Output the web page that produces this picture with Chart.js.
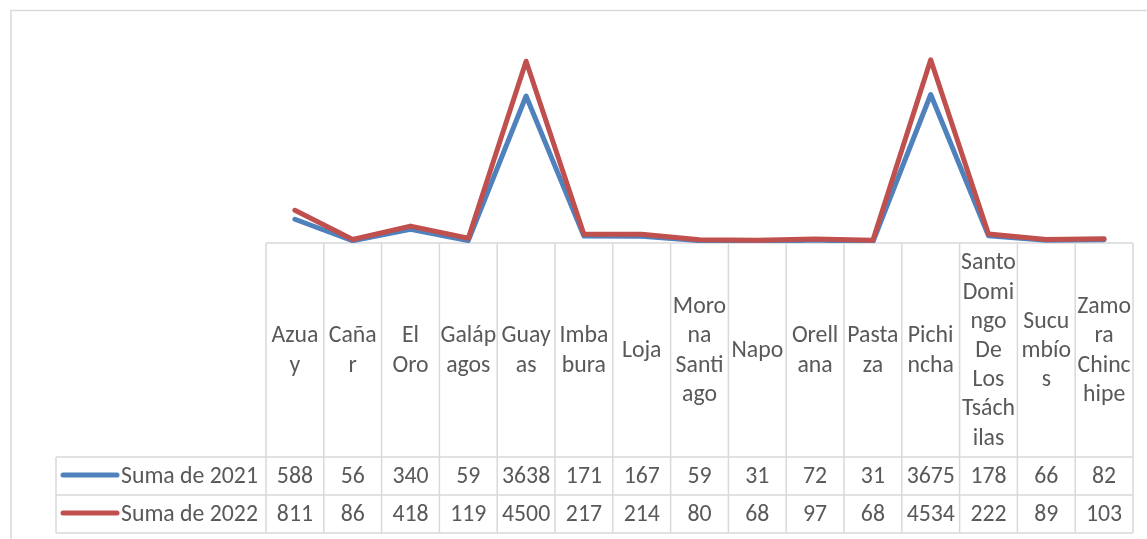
<!DOCTYPE html>
<html>
<head>
<meta charset="utf-8">
<script src="https://cdn.jsdelivr.net/npm/chart.js@4/dist/chart.umd.min.js"></script>
<style>
  html, body { margin: 0; padding: 0; background: #fff; }
  canvas { display: block; }
</style>
</head>
<body>
<canvas id="c" width="1147" height="539"></canvas>
<script>
const categories = ["Azuay", "Cañar", "El Oro", "Galápagos", "Guayas", "Imbabura", "Loja",
  "Morona Santiago", "Napo", "Orellana", "Pastaza", "Pichincha",
  "Santo Domingo De Los Tsáchilas", "Sucumbíos", "Zamora Chinchipe"];
const headerLines = [["Azua","y"],["Caña","r"],["El","Oro"],["Galáp","agos"],["Guay","as"],
  ["Imba","bura"],["Loja"],["Moro","na","Santi","ago"],["Napo"],["Orell","ana"],["Pasta","za"],
  ["Pichi","ncha"],["Santo","Domi","ngo","De","Los","Tsách","ilas"],["Sucu","mbío","s"],
  ["Zamo","ra","Chinc","hipe"]];
const seriesNames = ["Suma de 2021", "Suma de 2022"];
const values2021 = [588, 56, 340, 59, 3638, 171, 167, 59, 31, 72, 31, 3675, 178, 66, 82];
const values2022 = [811, 86, 418, 119, 4500, 217, 214, 80, 68, 97, 68, 4534, 222, 89, 103];
const yMax = 5000;

const BLUE = '#4F81BD', RED = '#C0504D', GRID = '#d9d9d9', TXT = '#595959';

const tablePlugin = {
  id: 'tablePlugin',
  beforeDatasetsDraw(chart) {
    const ctx = chart.ctx;
    const xs = chart.scales.x, ys = chart.scales.y;
    const left = xs.left, right = xs.right, n = categories.length;
    const cw = (right - left) / n;
    const axisY = ys.bottom;
    const row1 = 457, row2 = 495, row3 = 533, legLeft = 56;
    ctx.save();
    ctx.strokeStyle = GRID;
    ctx.lineWidth = 1.5;
    ctx.beginPath();
    ctx.moveTo(11, 539); ctx.lineTo(11, 10.5); ctx.lineTo(1147, 10.5);
    ctx.stroke();
    ctx.beginPath();
    ctx.moveTo(left, axisY); ctx.lineTo(right, axisY);
    [row1, row2, row3].forEach(y => { ctx.moveTo(legLeft, y); ctx.lineTo(right, y); });
    ctx.moveTo(legLeft, row1); ctx.lineTo(legLeft, row3);
    for (let i = 0; i <= n; i++) {
      const x = left + i * cw;
      ctx.moveTo(x, axisY); ctx.lineTo(x, row3);
    }
    ctx.stroke();
    ctx.restore();
  },
  afterDatasetsDraw(chart) {
    const ctx = chart.ctx;
    const xs = chart.scales.x, ys = chart.scales.y;
    const axisY = ys.bottom;
    const row1 = 457, row2 = 495, row3 = 533;
    ctx.save();
    const fam = 'Carlito, Lato, "Liberation Sans", sans-serif';
    ctx.font = '24px ' + fam;
    const w = ctx.measureText('Suma de 2021').width;
    const fs = 24 * 137 / w;
    ctx.font = fs.toFixed(2) + 'px ' + fam;
    ctx.fillStyle = TXT;
    ctx.textAlign = 'center';
    ctx.textBaseline = 'middle';
    const lh = 29.2;
    const hc = (axisY + row1) / 2;
    headerLines.forEach((lines, i) => {
      const x = xs.getPixelForValue(i);
      const y0 = hc - (lines.length - 1) * lh / 2;
      lines.forEach((t, k) => ctx.fillText(t, x, y0 + k * lh + 1));
    });
    const rows = [values2021, values2022];
    const rc = [(row1 + row2) / 2, (row2 + row3) / 2];
    rows.forEach((vals, r) => {
      vals.forEach((v, i) => ctx.fillText(String(v), xs.getPixelForValue(i), rc[r] + 1));
    });
    const cols = [BLUE, RED];
    ctx.textAlign = 'left';
    seriesNames.forEach((name, r) => {
      ctx.strokeStyle = cols[r];
      ctx.lineWidth = 5;
      ctx.lineCap = 'round';
      ctx.beginPath();
      ctx.moveTo(63, rc[r] - 1); ctx.lineTo(117, rc[r] - 1);
      ctx.stroke();
      ctx.fillStyle = TXT;
      ctx.fillText(name, 121, rc[r] + 1);
    });
    ctx.restore();
  }
};

new Chart(document.getElementById('c'), {
  type: 'line',
  data: {
    labels: categories,
    datasets: [
      { label: seriesNames[0], data: values2021, borderColor: BLUE, backgroundColor: BLUE,
        borderWidth: 5, pointRadius: 0, tension: 0, order: 1,
        borderCapStyle: 'round', borderJoinStyle: 'round' },
      { label: seriesNames[1], data: values2022, borderColor: RED, backgroundColor: RED,
        borderWidth: 5, pointRadius: 0, tension: 0, order: 0,
        borderCapStyle: 'round', borderJoinStyle: 'round' }
    ]
  },
  options: {
    responsive: false,
    animation: false,
    layout: { padding: { left: 266, right: 14, top: 41, bottom: 296 } },
    plugins: { legend: { display: false }, tooltip: { enabled: false } },
    scales: {
      x: { display: false, offset: true },
      y: { display: false, min: 0, max: yMax }
    }
  },
  plugins: [tablePlugin]
});
</script>
</body>
</html>
